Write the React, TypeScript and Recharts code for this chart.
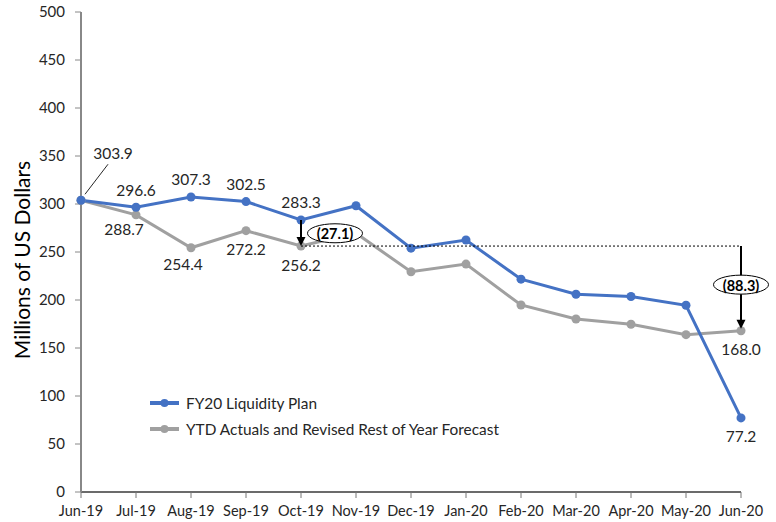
import React from "react";
import {
  LineChart,
  Line,
  XAxis,
  YAxis,
  Legend,
  LabelList,
  ReferenceLine,
  ReferenceDot,
} from "recharts";

const months = [
  "Jun-19", "Jul-19", "Aug-19", "Sep-19", "Oct-19", "Nov-19", "Dec-19",
  "Jan-20", "Feb-20", "Mar-20", "Apr-20", "May-20", "Jun-20",
];
const planValues = [303.9, 296.6, 307.3, 302.5, 283.3, 298.2, 254.0, 262.5, 221.7, 206.0, 203.6, 194.5, 77.2];
const actualValues = [303.9, 288.7, 254.4, 272.2, 256.2, 269.6, 229.4, 237.4, 194.8, 180.2, 174.7, 163.9, 168.0];
const yTicks = [0, 50, 100, 150, 200, 250, 300, 350, 400, 450, 500];

const planName = "FY20 Liquidity Plan";
const actualName = "YTD Actuals and Revised Rest of Year Forecast";

// annotation values
const gapOct = "(27.1)";
const gapJun = "(88.3)";
const octBase = 256.2;

// label placement (offsets from point, px) by index; missing => no label
const planLabelOffsets: Record<number, [number, number]> = {
  0: [32, -47],
  1: [0, -17],
  2: [0, -18],
  3: [0, -18],
  4: [0, -18],
  12: [0, 18],
};
const actualLabelOffsets: Record<number, [number, number]> = {
  1: [-12, 14],
  2: [-8, 16],
  3: [0, 18],
  4: [0, 19],
  12: [0, 18],
};

const data = months.map((m, i) => ({ month: m, plan: planValues[i], actual: actualValues[i] }));

const BLUE = "#4472C4";
const GRAY = "#A0A0A0";
const TEXT = "#262626";
const FONT = "Lato, 'Open Sans', sans-serif";

const makeLabel = (offsets: Record<number, [number, number]>) => (p: any) => {
  const idx = p.index;
  const off = offsets[idx];
  if (!off) return null;
  const cx = p.x + off[0];
  const cy = p.y + off[1];
  return (
    <g>
      {idx === 0 && offsets === planLabelOffsets ? (
        <line x1={p.x + 4} y1={p.y - 6} x2={p.x + 27} y2={p.y - 36} stroke="#262626" strokeWidth={1} />
      ) : null}
      <text
        x={cx}
        y={cy}
        textAnchor="middle"
        dominantBaseline="central"
        fontSize={15.5}
        fontFamily={FONT}
        fill={TEXT}
      >
        {Number(p.value).toFixed(1)}
      </text>
    </g>
  );
};

const arrowShape = (p: any) => {
  const { x1, y1, x2, y2 } = p;
  const top = Math.min(y1, y2);
  const bot = Math.max(y1, y2);
  return (
    <g>
      <line x1={x1} y1={top} x2={x1} y2={bot - 7} stroke="#000" strokeWidth={2} />
      <polygon points={`${x1 - 4.5},${bot - 9} ${x1 + 4.5},${bot - 9} ${x1},${bot}`} fill="#000" />
    </g>
  );
};

const ellipseShape = (text: string, dx: number) => (p: any) => {
  const cx = p.cx + dx;
  const cy = p.cy;
  return (
    <g>
      <ellipse cx={cx} cy={cy} rx={27.5} ry={9.5} fill="#fff" stroke="#000" strokeWidth={1} />
      <text
        x={cx}
        y={cy + 0.5}
        textAnchor="middle"
        dominantBaseline="central"
        fontSize={14.5}
        fontWeight={700}
        fontFamily={FONT}
        fill="#000"
      >
        {text}
      </text>
    </g>
  );
};

const legendContent = () => {
  const items = [
    { name: planName, color: BLUE },
    { name: actualName, color: GRAY },
  ];
  return (
    <div style={{ fontFamily: FONT, fontSize: 15.4, color: TEXT }}>
      {items.map((it) => (
        <div key={it.name} style={{ display: "flex", alignItems: "center", height: 26 }}>
          <svg width={36} height={12} style={{ marginRight: 0 }}>
            <line x1={0} y1={6} x2={29} y2={6} stroke={it.color} strokeWidth={4} />
            <circle cx={14.5} cy={6} r={4} fill={it.color} />
          </svg>
          <span>{it.name}</span>
        </div>
      ))}
    </div>
  );
};

const yTitle = (p: any) => {
  const vb = p.viewBox || { x: 0, y: 12, width: 81, height: 480 };
  const cx = 21;
  const cy = vb.y + vb.height / 2 + 8;
  return (
    <text
      x={cx}
      y={cy}
      transform={`rotate(-90, ${cx}, ${cy})`}
      textAnchor="middle"
      dominantBaseline="central"
      fontSize={21}
      fontFamily={FONT}
      fill="#000"
    >
      Millions of US Dollars
    </text>
  );
};

export default function App() {
  return (
    <div style={{ position: "absolute", left: 0, top: 0, width: 776, height: 522, background: "#fff" }}>
      <LineChart width={776} height={522} data={data} margin={{ top: 12, right: 35, bottom: 0, left: 0 }}>
        <XAxis
          dataKey="month"
          height={30}
          interval={0}
          tickSize={6}
          tickMargin={8}
          axisLine={{ stroke: "#3a3a3a", strokeWidth: 1.5 }}
          tickLine={{ stroke: "#777" }}
          tick={{ fontSize: 14.5, fontFamily: FONT, fill: TEXT }}
        />
        <YAxis
          width={81}
          domain={[0, 500]}
          ticks={yTicks}
          interval={0}
          tickSize={6}
          tickMargin={10}
          axisLine={{ stroke: "#888", strokeWidth: 2 }}
          tickLine={{ stroke: "#888" }}
          tick={{ fontSize: 15, fontFamily: FONT, fill: TEXT }}
          label={{ content: yTitle }}
        />
        <Legend
          layout="vertical"
          verticalAlign="middle"
          align="center"
          content={legendContent}
          wrapperStyle={{ left: 150, top: 390, width: 420, transform: "none" }}
        />
        <Line
          dataKey="actual"
          name={actualName}
          stroke={GRAY}
          strokeWidth={3}
          dot={{ r: 4.5, fill: GRAY, stroke: GRAY, strokeWidth: 0 }}
          isAnimationActive={false}
        >
          <LabelList dataKey="actual" content={makeLabel(actualLabelOffsets)} />
        </Line>
        <Line
          dataKey="plan"
          name={planName}
          stroke={BLUE}
          strokeWidth={3}
          dot={{ r: 4.5, fill: BLUE, stroke: BLUE, strokeWidth: 0 }}
          isAnimationActive={false}
        >
          <LabelList dataKey="plan" content={makeLabel(planLabelOffsets)} />
        </Line>
        <ReferenceLine
          segment={[
            { x: "Oct-19", y: octBase },
            { x: "Jun-20", y: octBase },
          ]}
          stroke="#000"
          strokeWidth={1}
          strokeDasharray="2 2"
          ifOverflow="visible"
          zIndex={2500}
        />
        <ReferenceLine
          segment={[
            { x: "Oct-19", y: planValues[4] },
            { x: "Oct-19", y: actualValues[4] },
          ]}
          shape={arrowShape}
          ifOverflow="visible"
          zIndex={2500}
        />
        <ReferenceLine
          segment={[
            { x: "Jun-20", y: octBase },
            { x: "Jun-20", y: actualValues[12] + 2 },
          ]}
          shape={arrowShape}
          ifOverflow="visible"
          zIndex={2500}
        />
        <ReferenceDot x="Oct-19" y={269.5} r={0} shape={ellipseShape(gapOct, 34)} ifOverflow="visible" zIndex={2600} />
        <ReferenceDot x="Jun-20" y={216} r={0} shape={ellipseShape(gapJun, 0)} ifOverflow="visible" zIndex={2600} />
      </LineChart>
    </div>
  );
}
